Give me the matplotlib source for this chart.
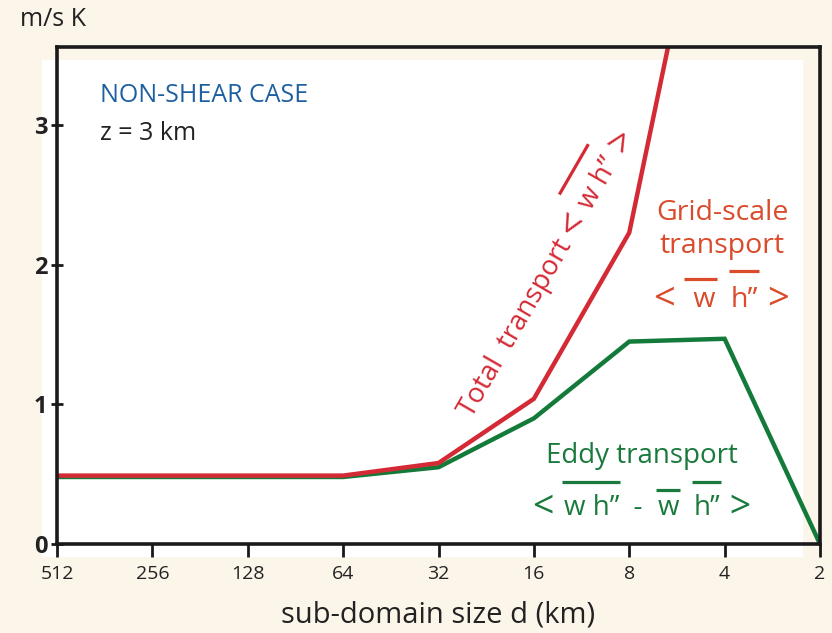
import numpy as np
import matplotlib
matplotlib.use("Agg")
import matplotlib.pyplot as plt
from matplotlib.patches import Rectangle
from matplotlib.lines import Line2D
from matplotlib.font_manager import FontProperties
from matplotlib.transforms import IdentityTransform

plt.rcParams['font.family'] = ['Open Sans', 'DejaVu Sans']

# sub-domain sizes (km) and transports (m/s K)
domain_size = [512, 256, 128, 64, 32, 16, 8, 4, 2]
total_size = [512, 256, 128, 64, 32, 16, 8, 4]
total_transport = [0.49, 0.49, 0.49, 0.49, 0.58, 1.04, 2.23, 5.5]
eddy_transport = [0.48, 0.48, 0.48, 0.48, 0.55, 0.90, 1.45, 1.47, 0.0]
tick_labels = ["512", "256", "128", "64", "32", "16", "8", "4", "2"]
y_ticks = [0, 1, 2, 3]

W_PX, H_PX, DPI = 832, 633, 100
bg = "#fcf5ea"
red = "#d42a36"
green = "#137a3a"
green_txt = "#1a7a3c"
orange = "#da4a2b"
blue = "#1e5fa0"
ink = "#222222"

fig = plt.figure(figsize=(W_PX / DPI, H_PX / DPI), dpi=DPI, facecolor=bg)
# white plotting sheet, slightly offset behind the frame
fig.add_artist(Rectangle((42 / W_PX, 1 - 557 / H_PX), 761 / W_PX, 497 / H_PX,
                         transform=fig.transFigure, facecolor="white",
                         edgecolor="none", zorder=0))

ax = fig.add_axes([57 / W_PX, 1 - 544 / H_PX, 763 / W_PX, 497 / H_PX])
ax.set_facecolor("none")
ax.set_zorder(1)

ax.plot(domain_size, eddy_transport, color=green, lw=3.2, solid_joinstyle="miter")
ax.plot(total_size, total_transport, color=red, lw=3.2, solid_joinstyle="miter")

ax.set_xscale("log", base=2)
ax.set_xlim(512, 2)
ax.set_ylim(0, 3.56)
ax.set_xticks(domain_size)
ax.set_xticklabels(tick_labels)
ax.minorticks_off()
ax.set_yticks(y_ticks)
ax.set_yticklabels([str(v) for v in y_ticks])

for s in ax.spines.values():
    s.set_linewidth(2.6)
    s.set_color("#1a1a1a")
ax.tick_params(axis="x", direction="out", length=9, width=2, labelsize=14,
               pad=6, color="#1a1a1a", labelcolor=ink)
ax.tick_params(axis="y", direction="inout", length=8, width=2, labelsize=17,
               pad=3, color="#1a1a1a", labelcolor=ink)
for lab in ax.get_yticklabels():
    lab.set_fontweight("bold")

ax.set_xlabel("sub-domain size d (km)", fontsize=21, labelpad=13, color=ink)

ident = IdentityTransform()


def fx(x, y):
    """image-style pixel position (y down) -> display position (y up)"""
    return x, H_PX - y


fig.text(*fx(20, 20), "m/s K", transform=ident, fontsize=18, va="center",
         ha="left", color=ink)
fig.text(*fx(100, 96), "NON-SHEAR CASE", transform=ident, fontsize=18,
         color=blue, va="center", ha="left")
fig.text(*fx(100, 134), "z = 3 km", transform=ident, fontsize=18, color=ink,
         va="center", ha="left")

fig.canvas.draw()
renderer = fig.canvas.get_renderer()


def text_width(s, fp):
    if not s:
        return 0.0
    w1, _, _ = renderer.get_text_width_height_descent(s + "|", fp, ismath=False)
    w2, _, _ = renderer.get_text_width_height_descent("|", fp, ismath=False)
    return w1 - w2


SEG_DEFAULTS = [None, None, 1.0, 0.0]


def barred_text(x, y, segments, size, color, angle=0.0, align="center",
                bar_lw=2.3):
    """Draw a line of text built from segments, some with an overbar.

    Each segment is (string, rise, scale, drop): rise is the bar height above
    the baseline in em (None for no bar), scale enlarges the glyphs (used for
    the angle brackets) and drop lowers them, in em.
    (x, y) is the baseline anchor in image pixels (y down).
    """
    em = size * DPI / 72.0
    th = np.deg2rad(angle)
    ux, uy = np.cos(th), np.sin(th)
    nx, ny = -np.sin(th), np.cos(th)
    segs = []
    for seg in segments:
        s, rise, scale, drop = list(seg) + SEG_DEFAULTS[len(seg):]
        fp = FontProperties(family="Open Sans", size=size * scale)
        segs.append((s, rise, fp, drop, text_width(s, fp)))
    total = sum(w for *_, w in segs)
    X, Y = fx(x, y)
    if align == "center":
        X -= ux * total / 2
        Y -= uy * total / 2
    pos = 0.0
    for s, rise, fp, drop, w in segs:
        d = -drop * em
        px_ = X + ux * pos + nx * d
        py_ = Y + uy * pos + ny * d
        fig.text(px_, py_, s, transform=ident, fontproperties=fp, color=color,
                 rotation=angle, rotation_mode="anchor", ha="left",
                 va="baseline")
        if rise is not None:
            a = pos - 0.06 * em
            b = pos + w + 0.04 * em
            h = rise * em
            xs = [X + ux * a + nx * h, X + ux * b + nx * h]
            ys = [Y + uy * a + ny * h, Y + uy * b + ny * h]
            fig.add_artist(Line2D(xs, ys, transform=ident, color=color,
                                  lw=bar_lw, solid_capstyle="butt"))
        pos += w


DQ = "\u201d"
LB = ("< ", None, 1.35, 0.1)
RB = (" >", None, 1.35, 0.1)

# total transport, written along the steep part of the red curve
barred_text(472, 418, [("Total  transport ",), LB, ("w h" + DQ, 1.3), RB],
            20, red, angle=60, align="left")

# grid-scale transport
barred_text(722, 220, [("Grid-scale",)], 20.5, orange)
barred_text(722, 253, [("transport",)], 20.5, orange)
barred_text(722, 307, [LB, (" w", 1.0), ("  ",), ("h" + DQ, 1.25), RB],
            20.5, orange)

# eddy transport
barred_text(642, 463, [("Eddy transport",)], 20, green_txt)
barred_text(642, 515, [LB, ("w h" + DQ, 1.2), ("  -  ",), ("w", 0.9),
                       ("  ",), ("h" + DQ, 1.2), RB], 20, green_txt)

fig.savefig("out.png", dpi=DPI, facecolor=bg)
